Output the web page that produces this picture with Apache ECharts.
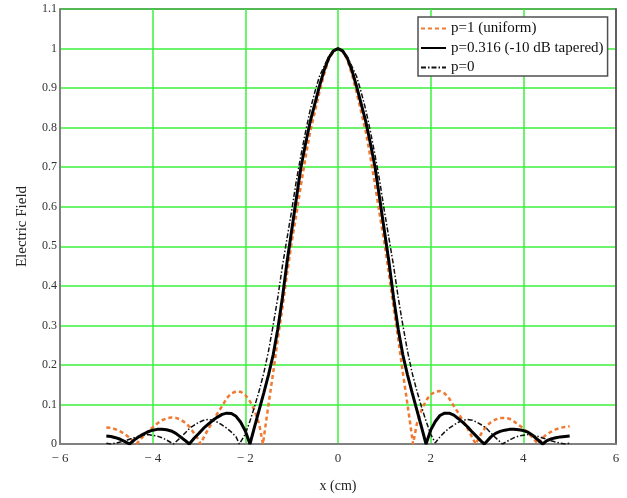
<!DOCTYPE html>
<html>
<head>
<meta charset="utf-8">
<script src="https://cdn.jsdelivr.net/npm/echarts@6/dist/echarts.min.js"></script>
<style>
	html, body {margin: 0; padding: 0; background: #fff;}
	#chart {width: 627px; height: 498px;}
</style>
</head>
<body>
<div id="chart"></div>
<script>
var seriesNames = ['p=1 (uniform)', 'p=0.316 (-10 dB tapered)', 'p=0'];
var xTicks = [-6, -4, -2, 0, 2, 4, 6];

// p=1 (uniform), [x, E]
var uniform = [
	[-5.0,0.042],[-4.9,0.041],[-4.8,0.037],[-4.7,0.032],[-4.6,0.025],[-4.5,0.016],[-4.4,0.006],[-4.35,0],
	[-4.2,0.02],[-4.1,0.032],[-4.0,0.042],[-3.9,0.052],[-3.8,0.06],[-3.7,0.065],[-3.6,0.067],[-3.5,0.066],
	[-3.4,0.062],[-3.3,0.054],[-3.2,0.043],[-3.1,0.026],[-3.0,0.01],[-2.97,0],[-2.9,0.016],[-2.8,0.038],
	[-2.7,0.058],[-2.6,0.078],[-2.5,0.096],[-2.4,0.116],[-2.3,0.128],[-2.2,0.133],[-2.1,0.132],[-2.0,0.124],
	[-1.9,0.108],[-1.8,0.085],[-1.7,0.05],[-1.62,0],[-1.5,0.1],[-1.4,0.18],[-1.3,0.265],[-1.2,0.345],
	[-1.1,0.43],[-1.0,0.51],[-0.9,0.58],[-0.8,0.655],[-0.7,0.725],[-0.6,0.79],[-0.5,0.84],[-0.4,0.89],
	[-0.3,0.935],[-0.2,0.972],[-0.1,0.993],[0,1.0],
	[0.1,0.993],[0.2,0.972],[0.3,0.935],[0.4,0.89],[0.5,0.84],[0.6,0.79],[0.7,0.725],[0.8,0.655],
	[0.9,0.58],[1.0,0.51],[1.1,0.43],[1.2,0.345],[1.3,0.265],[1.4,0.18],[1.5,0.1],[1.62,0],
	[1.7,0.05],[1.8,0.085],[1.9,0.11],[2.0,0.125],[2.1,0.132],[2.2,0.134],[2.3,0.128],[2.4,0.115],
	[2.5,0.096],[2.6,0.078],[2.7,0.058],[2.8,0.038],[2.9,0.016],[2.97,0],[3.1,0.028],[3.2,0.045],
	[3.3,0.055],[3.4,0.062],[3.5,0.066],[3.6,0.066],[3.7,0.064],[3.8,0.057],[3.9,0.048],[4.0,0.04],
	[4.1,0.028],[4.2,0.016],[4.32,0],[4.4,0.014],[4.5,0.024],[4.6,0.031],[4.7,0.037],[4.8,0.041],
	[4.9,0.043],[5.0,0.045]
];

// p=0.316 (-10 dB tapered)
var tapered = [
	[-5.0,0.02],[-4.9,0.019],[-4.8,0.016],[-4.7,0.012],[-4.6,0.006],[-4.5,0],[-4.4,0.01],[-4.3,0.018],
	[-4.2,0.025],[-4.1,0.031],[-4.0,0.035],[-3.9,0.037],[-3.8,0.037],[-3.7,0.036],[-3.6,0.033],[-3.5,0.027],
	[-3.4,0.018],[-3.3,0.009],[-3.21,0],[-3.1,0.015],[-3.0,0.027],[-2.9,0.04],[-2.8,0.05],[-2.7,0.06],
	[-2.6,0.068],[-2.5,0.075],[-2.4,0.078],[-2.3,0.077],[-2.2,0.07],[-2.1,0.055],[-2.0,0.033],[-1.9,0],
	[-1.8,0.044],[-1.7,0.087],[-1.6,0.13],[-1.5,0.175],[-1.4,0.225],[-1.3,0.29],[-1.2,0.37],[-1.1,0.46],
	[-1.0,0.54],[-0.9,0.62],[-0.8,0.7],[-0.7,0.76],[-0.6,0.815],[-0.5,0.86],[-0.4,0.905],[-0.3,0.945],
	[-0.2,0.976],[-0.1,0.994],[0,1.0],
	[0.1,0.994],[0.2,0.976],[0.3,0.945],[0.4,0.905],[0.5,0.86],[0.6,0.815],[0.7,0.76],[0.8,0.7],
	[0.9,0.62],[1.0,0.54],[1.1,0.46],[1.2,0.37],[1.3,0.29],[1.4,0.225],[1.5,0.175],[1.6,0.13],
	[1.7,0.087],[1.8,0.044],[1.9,0],[2.0,0.035],[2.1,0.057],[2.2,0.072],[2.3,0.078],[2.4,0.078],
	[2.5,0.073],[2.6,0.064],[2.7,0.054],[2.8,0.043],[2.9,0.03],[3.0,0.018],[3.1,0.006],[3.16,0],
	[3.3,0.018],[3.4,0.027],[3.5,0.032],[3.6,0.035],[3.7,0.037],[3.8,0.037],[3.9,0.036],[4.0,0.034],
	[4.1,0.03],[4.2,0.022],[4.3,0.012],[4.42,0],[4.5,0.008],[4.6,0.013],[4.7,0.016],[4.8,0.018],
	[4.9,0.019],[5.0,0.02]
];

// p=0
var cosine = [
	[-5.0,0.002],[-4.9,0],[-4.8,0.002],[-4.7,0.005],[-4.6,0.008],[-4.5,0.012],[-4.4,0.016],[-4.3,0.02],
	[-4.2,0.022],[-4.1,0.024],[-4.0,0.022],[-3.9,0.02],[-3.8,0.016],[-3.7,0.01],[-3.55,0],[-3.4,0.016],
	[-3.3,0.028],[-3.2,0.04],[-3.1,0.048],[-3.0,0.055],[-2.9,0.06],[-2.8,0.062],[-2.7,0.06],[-2.6,0.055],
	[-2.5,0.048],[-2.4,0.04],[-2.3,0.03],[-2.2,0.018],[-2.13,0],[-2.1,0.003],[-2.0,0.025],[-1.9,0.058],
	[-1.8,0.095],[-1.7,0.135],[-1.6,0.18],[-1.5,0.235],[-1.4,0.3],[-1.3,0.37],[-1.2,0.45],[-1.1,0.52],
	[-1.0,0.59],[-0.9,0.665],[-0.8,0.73],[-0.7,0.79],[-0.6,0.845],[-0.5,0.89],[-0.4,0.93],[-0.3,0.955],
	[-0.2,0.98],[-0.1,0.995],[0,1.0],
	[0.1,0.995],[0.2,0.98],[0.3,0.955],[0.4,0.93],[0.5,0.89],[0.6,0.845],[0.7,0.79],[0.8,0.73],
	[0.9,0.665],[1.0,0.59],[1.1,0.52],[1.2,0.45],[1.3,0.37],[1.4,0.3],[1.5,0.235],[1.6,0.18],
	[1.7,0.135],[1.8,0.095],[1.9,0.058],[2.0,0.025],[2.1,0.003],[2.13,0],[2.2,0.018],[2.3,0.03],
	[2.4,0.04],[2.5,0.048],[2.6,0.055],[2.7,0.06],[2.8,0.062],[2.9,0.06],[3.0,0.055],[3.1,0.048],
	[3.2,0.04],[3.3,0.028],[3.4,0.016],[3.55,0],[3.7,0.01],[3.8,0.016],[3.9,0.02],[4.0,0.022],
	[4.1,0.024],[4.2,0.022],[4.3,0.02],[4.4,0.016],[4.5,0.012],[4.6,0.008],[4.7,0.005],[4.8,0.002],
	[4.9,0],[5.0,0.002]
];

var serif = '"Liberation Serif", "DejaVu Serif", serif';
var green = '#3cf03c';
var gridColors = [];
for (var i = 0; i < 11; i++) gridColors.push(green);
gridColors.push('#1aa01a');

var myChart = echarts.init(document.getElementById('chart'));
var option = {
	animation: false,
	grid: {left: 60, right: 11, top: 9, bottom: 50},
	legend: {
		orient: 'vertical',
		left: 418,
		top: 17,
		data: seriesNames,
		itemWidth: 25,
		itemHeight: 12,
		itemGap: 4.5,
		padding: [4, 4, 1, 2],
		backgroundColor: '#fff',
		borderColor: '#505050',
		borderWidth: 1.5,
		borderRadius: 0,
		itemStyle: {opacity: 0},
		textStyle: {fontFamily: serif, fontSize: 15, color: '#111'}
	},
	xAxis: {
		type: 'value',
		min: -6,
		max: 6,
		interval: 2,
		name: 'x (cm)',
		nameLocation: 'middle',
		nameGap: 35,
		nameTextStyle: {fontFamily: serif, fontSize: 14, color: '#222'},
		axisLine: {onZero: false, lineStyle: {color: '#808080', width: 2}},
		axisTick: {show: false},
		axisLabel: {
			fontFamily: serif, fontSize: 13, color: '#333', margin: 8,
			formatter: function (v) {
				return v < 0 ? '\u2212 ' + Math.abs(v) : String(v);
			}
		},
		splitLine: {lineStyle: {color: green, width: 1.5}}
	},
	yAxis: [
		{
			type: 'value',
			min: 0,
			max: 1.1,
			interval: 0.1,
			name: 'Electric Field',
			nameLocation: 'middle',
			nameGap: 30,
			nameTextStyle: {fontFamily: serif, fontSize: 15, color: '#222'},
			axisLine: {show: true, onZero: false, lineStyle: {color: '#808080', width: 2}},
			axisTick: {show: false},
			axisLabel: {fontFamily: serif, fontSize: 12, color: '#333', margin: 3},
			splitLine: {lineStyle: {color: gridColors, width: 1.5}}
		},
		{
			type: 'value',
			position: 'right',
			min: 0,
			max: 1.1,
			interval: 0.1,
			axisLine: {show: true, onZero: false, lineStyle: {color: '#606060', width: 2}},
			axisTick: {show: false},
			axisLabel: {show: false},
			splitLine: {show: false}
		}
	],
	series: [
		{
			name: seriesNames[0],
			type: 'line',
			data: uniform,
			symbol: 'none',
			z: 3,
			lineStyle: {color: '#f07a32', width: 2.5, type: [4, 3]},
			itemStyle: {color: '#f07a32'}
		},
		{
			name: seriesNames[1],
			type: 'line',
			data: tapered,
			symbol: 'none',
			z: 4,
			lineStyle: {color: '#000', width: 3},
			itemStyle: {color: '#000'}
		},
		{
			name: seriesNames[2],
			type: 'line',
			data: cosine,
			symbol: 'none',
			z: 5,
			lineStyle: {color: '#111', width: 1.5, type: [5, 2, 1.5, 2]},
			itemStyle: {color: '#111'}
		}
	]
};
myChart.setOption(option);
</script>
</body>
</html>
